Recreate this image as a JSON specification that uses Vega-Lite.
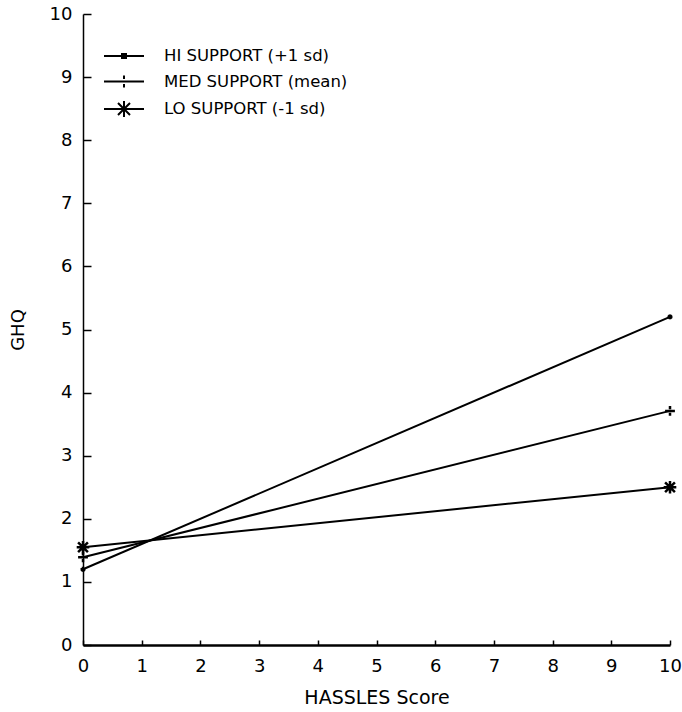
{
  "$schema": "https://vega.github.io/schema/vega-lite/v6.json",
  "width": 587,
  "height": 631,
  "autosize": {"type": "none"},
  "padding": {"left": 83, "top": 14, "right": 12, "bottom": 67},
  "background": "white",
  "config": {
    "view": {"stroke": null},
    "font": "DejaVu Sans",
    "axis": {"grid": false, "domainColor": "black", "tickColor": "black", "labelColor": "black", "titleColor": "black", "labelFont": "DejaVu Sans", "titleFont": "DejaVu Sans", "titleFontWeight": "normal"}
  },
  "datasets": {
    "lines": [
      {"series": "HI SUPPORT (+1 sd)", "hassles": 0, "ghq": 1.2},
      {"series": "HI SUPPORT (+1 sd)", "hassles": 10, "ghq": 5.2},
      {"series": "MED SUPPORT (mean)", "hassles": 0, "ghq": 1.39},
      {"series": "MED SUPPORT (mean)", "hassles": 10, "ghq": 3.71},
      {"series": "LO SUPPORT (-1 sd)", "hassles": 0, "ghq": 1.55},
      {"series": "LO SUPPORT (-1 sd)", "hassles": 10, "ghq": 2.5}
    ]
  },
  "data": {"name": "lines"},
  "encoding": {
    "x": {"field": "hassles", "type": "quantitative", "scale": {"domain": [0, 10], "nice": false, "zero": false},
      "axis": {"title": "HASSLES Score", "values": [0,1,2,3,4,5,6,7,8,9,10], "tickSize": -5, "labelPadding": 17, "labelFontSize": 18, "titleFontSize": 19, "titlePadding": 13, "domainWidth": 2.5, "tickWidth": 1.5, "labelFlush": false}},
    "y": {"field": "ghq", "type": "quantitative", "scale": {"domain": [0, 10], "nice": false},
      "axis": {"title": "GHQ", "values": [0,1,2,3,4,5,6,7,8,9,10], "tickSize": -8, "labelPadding": 19, "labelFontSize": 18, "titleFontSize": 18, "titlePadding": 22, "domainWidth": 1.5, "tickWidth": 1.5, "labelFlush": false}}
  },
  "layer": [
    {
      "mark": {"type": "line", "color": "black", "strokeWidth": 2},
      "encoding": {"detail": {"field": "series"}}
    },
    {
      "mark": {"type": "point", "filled": false, "color": "black", "strokeWidth": 2.5, "size": 196, "opacity": 1},
      "encoding": {
        "shape": {"field": "series", "type": "nominal",
          "scale": {"domain": ["HI SUPPORT (+1 sd)", "MED SUPPORT (mean)", "LO SUPPORT (-1 sd)"],
            "range": ["M-0.35,0H0.35M0,-0.35V0.35M-0.25,-0.25L0.25,0.25M-0.25,0.25L0.25,-0.25", "M-0.7,0H0.7M0,-0.7V-0.25M0,0.25V0.7", "M-0.9,0H0.9M0,-0.9V0.9M-0.7,-0.7L0.7,0.7M-0.7,0.7L0.7,-0.7"]},
          "legend": null}
      }
    },
    {
      "mark": {"type": "point", "filled": false, "color": "black", "strokeWidth": 2, "size": 400, "opacity": 0},
      "encoding": {
        "shape": {"field": "series", "type": "nominal",
          "scale": {"domain": ["HI SUPPORT (+1 sd)", "MED SUPPORT (mean)", "LO SUPPORT (-1 sd)"],
            "range": ["M-2,0H2M-0.2,-0.2H0.2V0.2H-0.2Z", "M-2,0H2M0,-0.6V-0.25M0,0.25V0.6", "M-2,0H2M0,-0.8V0.8M-0.6,-0.6L0.6,0.6M-0.6,0.6L0.6,-0.6"]},
          "legend": {"title": null, "orient": "none", "legendX": 30, "legendY": 31, "padding": 0, "symbolSize": 400, "symbolOpacity": 1, "symbolStrokeColor": "black", "symbolFillColor": "black", "symbolStrokeWidth": 2, "labelOffset": 29, "labelFontSize": 16.5, "labelFont": "DejaVu Sans", "labelColor": "black", "rowPadding": 5.5, "labelLimit": 400}}
      }
    }
  ],
  "resolve": {"scale": {"shape": "independent"}}
}
